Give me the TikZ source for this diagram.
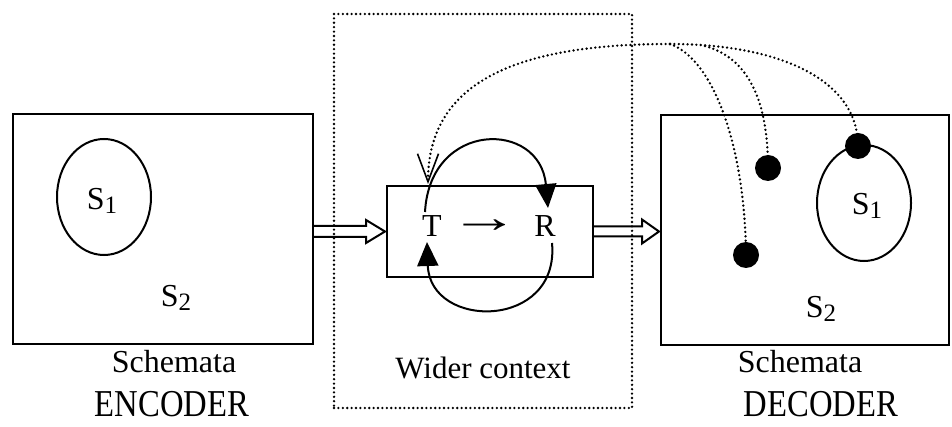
\documentclass[tikz,border=0pt]{standalone}
\usepackage{fontspec}
\setmainfont{Liberation Serif}
\usetikzlibrary{arrows.meta,shapes.geometric,calc}

% subscript digit for the schema labels
\newcommand\schsub[1]{\raisebox{-4pt}{\fontsize{25}{25}\selectfont #1}}

\begin{document}
\begin{tikzpicture}[x=1pt,y=-1pt,
  solidline/.style={line width=2pt},
  box/.style={draw,rectangle,line width=2pt,inner sep=0pt},
  dotline/.style={line width=2.6pt,line cap=round,dash pattern=on 0pt off 4.4pt},
  oval/.style={draw,ellipse,line width=2pt,minimum width=94pt,minimum height=116pt,inner sep=0pt},
  blob/.style={circle,fill=black,minimum size=26pt,inner sep=0pt},
  lbl/.style={font=\fontsize{32}{32}\selectfont,inner sep=0pt,anchor=base},
  bigname/.style={font=\fontsize{38}{38}\selectfont,inner sep=0pt,anchor=base},
  hollow/.style={line width=2pt,line join=miter},
  loopend/.style={-{Triangle[length=24pt,width=21pt]}}
]
\useasboundingbox (0,0) rectangle (952,427);

% encoder, transmission channel and decoder
\node[box,minimum width=300pt,minimum height=230pt] (enc) at (163,229) {};
\node[box,minimum width=288pt,minimum height=230pt] (dec) at (805,230) {};
\node[box,minimum width=206pt,minimum height=91pt] (mid) at (490,231.5) {};
\node[draw,rectangle,dotline,inner sep=0pt,minimum width=298pt,minimum height=394pt] (ctx) at (483,211) {};

% schemata ovals
\node[oval] (encOval) at (104,197) {};
\node[oval] (decOval) at (864,203) {};

% labels
\node[lbl] (encS1) at (102,210) {S\schsub{1}};
\node[lbl] (encS2) at (176,306) {S\schsub{2}};
\node[lbl] (decS1) at (867,215) {S\schsub{1}};
\node[lbl] (decS2) at (821,317) {S\schsub{2}};
\node[lbl] (T) at (432,237) {T};
\node[lbl] (arr) at (485,233) {\scalebox{2.2}[1.4]{→}};
\node[lbl] (R) at (545,237) {R};
\node[lbl] (encSch) at (174,372) {Schemata};
\node[lbl] (decSch) at (800,372) {Schemata};
\node[lbl,font=\fontsize{31}{31}\selectfont] (ctxlbl) at (483,378) {Wider context};
\node[bigname] (encName) at (172,416) {\scalebox{0.86}[1]{ENCODER}};
\node[bigname] (decName) at (821,416) {\scalebox{0.86}[1]{DECODER}};

% hollow arrows between the boxes
\coordinate (a1) at (enc.east |- mid.west);
\draw[hollow] ($(a1)+(0,-5.5)$) -- ($(mid.west)+(-20,-5.5)$) -- ($(mid.west)+(-20,-11.5)$)
  -- ($(mid.west)+(-1,0)$) -- ($(mid.west)+(-20,11.5)$) -- ($(mid.west)+(-20,5.5)$) -- ($(a1)+(0,5.5)$);
\coordinate (a2) at (dec.west |- mid.east);
\draw[hollow] ($(mid.east)+(0,-5)$) -- ($(a2)+(-18,-5)$) -- ($(a2)+(-18,-12)$)
  -- ($(a2)+(-1,0)$) -- ($(a2)+(-18,12)$) -- ($(a2)+(-18,5)$) -- ($(mid.east)+(0,5)$);

% dotted feedback from the decoder schemata
\coordinate (hub) at (670,44);
\coordinate (hub2) at (705,46);
\coordinate (landing) at (428,184);
\coordinate (p1) at (746,255);
\coordinate (p2) at (768,168);
\coordinate (p3) at (858,146);
\draw[dotline,-{Straight Barb[length=28pt,width=21pt,line width=1.6pt]}]
  (hub) .. controls (520,44) and (428,80) .. (landing);
\draw[dotline] (hub) .. controls (780,44) and (858,80) .. (p3);
\draw[dotline] (hub) .. controls (715,60) and (745,150) .. (p1);
\draw[dotline] (hub2) .. controls (748,58) and (768,100) .. (p2);
\node[blob] (dot1) at (p1) {};
\node[blob] (dot2) at (p2) {};
\node[blob] (dot3) at (p3) {};

% feedback loop round T -> R
\coordinate (tTop) at (425,212);
\coordinate (rTop) at (548,208);
\coordinate (rBot) at (552,243);
\coordinate (tBot) at (427,242);
\draw[solidline,loopend] (tTop) .. controls (430,120) and (540,120) .. (rTop);
\draw[solidline,loopend] (rBot) .. controls (560,330) and (430,330) .. (tBot);
\end{tikzpicture}
\end{document}
